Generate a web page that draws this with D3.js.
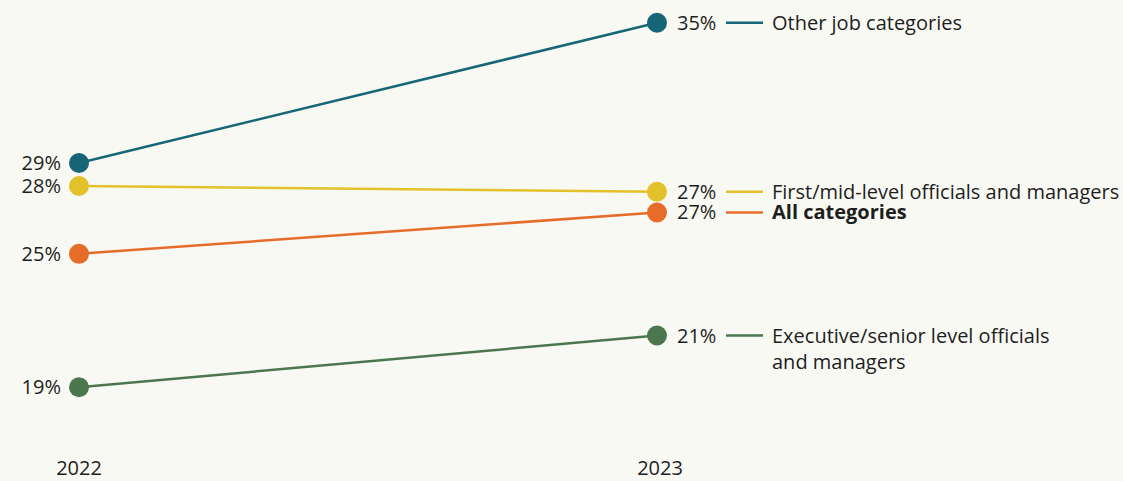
<!DOCTYPE html>
<html>
<head>
<meta charset="utf-8">
<script src="https://cdn.jsdelivr.net/npm/d3@7"></script>
<style>
  html, body { margin: 0; padding: 0; background: #f9f9f4; }
  svg { display: block; }
  text { font-family: "Open Sans", "Lato", sans-serif; fill: #1e1e1e; }
</style>
</head>
<body>
<svg></svg>
<script>
const width = 1123;
const height = 481;

// data
const years = ["2022", "2023"];
const categories = [
  "Other job categories",
  "First/mid-level officials and managers",
  "All categories",
  "Executive/senior level officials and managers"
];
const values2022 = [28.7, 27.7, 24.75, 18.95];
const values2023 = [34.8, 27.45, 26.55, 21.2];
const colors = ["#176677", "#e3c12a", "#e56d29", "#4b774f"];

const svg = d3.select("svg")
  .attr("width", width)
  .attr("height", height);

const x = d3.scalePoint()
  .domain(years)
  .range([79, 657]);

const y = d3.scaleLinear()
  .domain([18, 35])
  .range([409.1, 18.1]);

const fmt = v => d3.format(".0f")(v) + "%";

const series = categories.map((name, i) => ({
  name,
  color: colors[i],
  bold: name === "All categories",
  points: [
    { year: years[0], value: values2022[i] },
    { year: years[1], value: values2023[i] }
  ]
}));

const line = d3.line()
  .x(d => x(d.year))
  .y(d => y(d.value));

const g = svg.selectAll("g.series")
  .data(series)
  .enter()
  .append("g")
  .attr("class", "series");

g.append("path")
  .attr("d", d => line(d.points))
  .attr("fill", "none")
  .attr("stroke", d => d.color)
  .attr("stroke-width", 2.5);

g.selectAll("circle")
  .data(d => d.points.map(p => ({ ...p, color: d.color })))
  .enter()
  .append("circle")
  .attr("cx", d => x(d.year))
  .attr("cy", d => y(d.value))
  .attr("r", 10)
  .attr("fill", d => d.color);

// left value labels
g.append("text")
  .attr("x", x(years[0]) - 18)
  .attr("y", d => y(d.points[0].value))
  .attr("dy", "0.35em")
  .attr("text-anchor", "end")
  .style("font-size", "20px")
  .text(d => fmt(d.points[0].value));

// right value labels
g.append("text")
  .attr("x", x(years[1]) + 20)
  .attr("y", d => y(d.points[1].value))
  .attr("dy", "0.35em")
  .style("font-size", "20px")
  .text(d => fmt(d.points[1].value));

// legend dash
g.append("line")
  .attr("x1", 726)
  .attr("x2", 763)
  .attr("y1", d => y(d.points[1].value))
  .attr("y2", d => y(d.points[1].value))
  .attr("stroke", d => d.color)
  .attr("stroke-width", 2.5);

// legend names (exec label wraps to two lines)
g.append("text")
  .attr("x", 772)
  .attr("y", d => y(d.points[1].value))
  .attr("dy", "0.35em")
  .style("font-size", "20px")
  .style("font-weight", d => d.bold ? "bold" : "normal")
  .each(function(d) {
    const t = d3.select(this);
    if (d.name.startsWith("Executive")) {
      t.append("tspan").attr("x", 772).text("Executive/senior level officials");
      t.append("tspan").attr("x", 772).attr("dy", 26).text("and managers");
    } else {
      t.text(d.name);
    }
  });

// year labels
svg.selectAll("text.year")
  .data(years)
  .enter()
  .append("text")
  .attr("class", "year")
  .attr("x", d => x(d) + (d === "2023" ? 3 : 0))
  .attr("y", 475)
  .attr("text-anchor", "middle")
  .style("font-size", "20px")
  .text(d => d);
</script>
</body>
</html>
